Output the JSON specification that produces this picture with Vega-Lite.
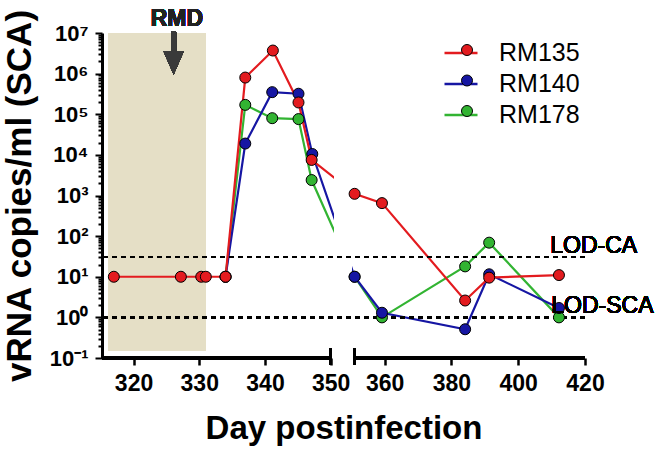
{
  "$schema": "https://vega.github.io/schema/vega-lite/v6.json",
  "width": 483,
  "height": 325,
  "autosize": {"type": "none"},
  "padding": {"left": 102, "top": 33, "right": 81, "bottom": 92},
  "background": "white",
  "config": {
    "view": {"stroke": null},
    "font": "Liberation Sans"
  },
  "data": {
    "values": [
      {"series": "RM178", "day": 334, "vl": 10},
      {"series": "RM178", "day": 337, "vl": 170000},
      {"series": "RM178", "day": 341.1, "vl": 80000},
      {"series": "RM178", "day": 345.1, "vl": 76000},
      {"series": "RM178", "day": 347.1, "vl": 2400},
      {"series": "RM178", "day": 351, "vl": 10},
      {"series": "RM178", "day": 359.2, "vl": 1.0},
      {"series": "RM178", "day": 384.1, "vl": 18},
      {"series": "RM178", "day": 391.3, "vl": 69},
      {"series": "RM178", "day": 412.2, "vl": 1.0},
      {"series": "RM140", "day": 334, "vl": 10},
      {"series": "RM140", "day": 337, "vl": 19000},
      {"series": "RM140", "day": 341.1, "vl": 350000},
      {"series": "RM140", "day": 345.1, "vl": 320000},
      {"series": "RM140", "day": 347.2, "vl": 10500},
      {"series": "RM140", "day": 351, "vl": 10},
      {"series": "RM140", "day": 359.2, "vl": 1.3},
      {"series": "RM140", "day": 384.1, "vl": 0.51},
      {"series": "RM140", "day": 391.3, "vl": 11.5},
      {"series": "RM140", "day": 412.2, "vl": 1.7},
      {"series": "RM135", "day": 317, "vl": 10},
      {"series": "RM135", "day": 327.2, "vl": 10},
      {"series": "RM135", "day": 330.3, "vl": 10},
      {"series": "RM135", "day": 331, "vl": 10},
      {"series": "RM135", "day": 334, "vl": 10},
      {"series": "RM135", "day": 337, "vl": 800000},
      {"series": "RM135", "day": 341.2, "vl": 3700000},
      {"series": "RM135", "day": 345.1, "vl": 195000},
      {"series": "RM135", "day": 347.1, "vl": 7500},
      {"series": "RM135", "day": 351, "vl": 1100},
      {"series": "RM135", "day": 359.2, "vl": 650},
      {"series": "RM135", "day": 384.1, "vl": 2.6},
      {"series": "RM135", "day": 391.3, "vl": 9.5},
      {"series": "RM135", "day": 412.2, "vl": 11}
    ]
  },
  "layer": [
    {
      "mark": {"type": "rect", "color": "#e5dfc6"},
      "encoding": {
        "x": {"datum": 316.2},
        "x2": {"datum": 331.0},
        "y": {"datum": 0.15},
        "y2": {"datum": 10000000}
      }
    },
    {
      "mark": {"type": "rule", "color": "#3a3a3a", "strokeWidth": 5},
      "encoding": {
        "x": {"datum": 326.1},
        "y": {"datum": 10700000},
        "y2": {"datum": 2500000}
      }
    },
    {
      "mark": {"type": "point", "shape": "M-1,-1.15L1,-1.15L0,1.15Z", "size": 400, "filled": true, "color": "#3a3a3a", "opacity": 1},
      "encoding": {
        "x": {"datum": 326.1},
        "y": {"datum": 1820000}
      }
    },
    {
      "mark": {"type": "text", "text": "RMD", "fontSize": 23, "fontWeight": "bold", "color": "#222222", "baseline": "alphabetic", "align": "center", "dy": -7},
      "encoding": {
        "x": {"datum": 326.6},
        "y": {"datum": 10000000}
      }
    },
    {
      "mark": {"type": "line", "strokeWidth": 2.2},
      "encoding": {
        "x": {
          "field": "day",
          "type": "quantitative",
          "scale": {"domain": [315.2, 350, 351, 420], "range": [0, 228.7, 252.6, 483], "nice": false, "zero": false},
          "axis": {
            "title": "Day postinfection",
            "values": [320, 330, 340, 350, 360, 380, 400, 420],
            "domain": false,
            "grid": false,
            "tickSize": 7,
            "tickWidth": 2.5,
            "tickColor": "black",
            "labelFont": "Liberation Sans",
            "labelFontSize": 23,
            "labelFontWeight": "bold",
            "labelColor": "black",
            "labelPadding": 7,
            "labelFlush": false,
            "labelOverlap": false,
            "titleFont": "Liberation Sans",
            "titleFontSize": 33,
            "titleFontWeight": "bold",
            "titleColor": "black",
            "titlePadding": 17
          }
        },
        "y": {
          "field": "vl",
          "type": "quantitative",
          "scale": {"type": "log", "domain": [0.1, 10000000], "nice": false},
          "axis": {
            "title": "vRNA copies/ml (SCA)",
            "values": [0.1, 0.2, 0.3, 0.4, 0.5, 0.6, 0.7, 0.8, 0.9, 1, 2, 3, 4, 5, 6, 7, 8, 9, 10, 20, 30, 40, 50, 60, 70, 80, 90, 100, 200, 300, 400, 500, 600, 700, 800, 900, 1000, 2000, 3000, 4000, 5000, 6000, 7000, 8000, 9000, 10000, 20000, 30000, 40000, 50000, 60000, 70000, 80000, 90000, 100000, 200000, 300000, 400000, 500000, 600000, 700000, 800000, 900000, 1000000, 2000000, 3000000, 4000000, 5000000, 6000000, 7000000, 8000000, 9000000, 10000000],
            "labelExpr": "abs(log(datum.value)/LN10 - round(log(datum.value)/LN10)) < 0.01 ? '10' + ['⁻¹','⁰','¹','²','³','⁴','⁵','⁶','⁷'][round(log(datum.value)/LN10)+1] : ''",
            "grid": false,
            "domain": true,
            "domainColor": "black",
            "domainWidth": 3,
            "tickColor": "black",
            "tickWidth": 2,
            "tickSize": {"condition": {"test": "abs(log(datum.value)/LN10 - round(log(datum.value)/LN10)) < 0.01", "value": 7}, "value": 4},
            "labelOverlap": false,
            "labelBound": false,
            "labelFlush": false,
            "labelFont": "Liberation Sans",
            "labelFontSize": 22,
            "labelFontWeight": "bold",
            "labelColor": "black",
            "labelPadding": 7,
            "titleFont": "Liberation Sans",
            "titleFontSize": 35,
            "titleFontWeight": "bold",
            "titleColor": "black",
            "titleX": -72,
            "titleBaseline": "alphabetic",
            "titleAlign": "center"
          }
        },
        "color": {
          "field": "series",
          "type": "nominal",
          "scale": {"domain": ["RM135", "RM140", "RM178"], "range": ["#e31b1f", "#1616a3", "#32b432"]},
          "legend": {
            "orient": "none",
            "legendX": 341,
            "legendY": 2,
            "title": null,
            "symbolType": "stroke",
            "symbolSize": 1089,
            "symbolStrokeWidth": 2.5,
            "labelFont": "Liberation Sans",
            "labelFontSize": 25,
            "labelColor": "black",
            "labelOffset": 20,
            "rowPadding": 0
          }
        },
        "order": {"field": "day", "type": "quantitative"}
      }
    },
    {
      "mark": {"type": "rect", "color": "white"},
      "encoding": {
        "x": {"datum": 350.14},
        "x2": {"datum": 350.89},
        "y": {"datum": 0.1},
        "y2": {"datum": 10000000}
      }
    },
    {
      "mark": {"type": "rule", "color": "black", "strokeWidth": 1.5, "strokeDash": [5, 4]},
      "encoding": {"y": {"datum": 30}}
    },
    {
      "mark": {"type": "rule", "color": "black", "strokeWidth": 1.5, "strokeDash": [5, 4]},
      "encoding": {"y": {"datum": 1}}
    },
    {
      "mark": {"type": "rule", "color": "black", "strokeWidth": 2.5},
      "encoding": {"x": {"datum": 315.2}, "x2": {"datum": 350}, "y": {"datum": 0.1}}
    },
    {
      "mark": {"type": "rule", "color": "black", "strokeWidth": 2.5},
      "encoding": {"x": {"datum": 351}, "x2": {"datum": 420}, "y": {"datum": 0.1}}
    },
    {
      "mark": {"type": "rule", "color": "black", "strokeWidth": 2.5},
      "encoding": {"x": {"datum": 350}, "y": {"datum": 0.0673}, "y2": {"datum": 0.176}}
    },
    {
      "mark": {"type": "rule", "color": "black", "strokeWidth": 2.5},
      "encoding": {"x": {"datum": 351}, "y": {"datum": 0.0673}, "y2": {"datum": 0.176}}
    },
    {
      "mark": {"type": "point", "shape": "circle", "size": 121, "filled": true, "stroke": "black", "strokeWidth": 1, "opacity": 1},
      "encoding": {
        "x": {"field": "day", "type": "quantitative"},
        "y": {"field": "vl", "type": "quantitative"},
        "fill": {
          "field": "series",
          "type": "nominal",
          "scale": {"range": ["#e31b1f", "#1616a3", "#32b432"]},
          "legend": {
            "orient": "none",
            "legendX": 352.5,
            "legendY": 4.5,
            "title": null,
            "symbolType": "circle",
            "symbolSize": 121,
            "symbolStrokeColor": "black",
            "symbolStrokeWidth": 1,
            "labelFont": "Liberation Sans",
            "labelFontSize": 25,
            "labelOpacity": 0,
            "labelExpr": "''",
            "labelOffset": 20,
            "rowPadding": 4.5
          }
        }
      }
    },
    {
      "mark": {"type": "text", "text": "LOD-CA", "fontSize": 23, "color": "black", "align": "left", "baseline": "alphabetic", "dy": -4},
      "encoding": {"x": {"datum": 409.6}, "y": {"datum": 30}}
    },
    {
      "mark": {"type": "text", "text": "LOD-SCA", "fontSize": 23, "color": "black", "align": "left", "baseline": "alphabetic", "dy": -4},
      "encoding": {"x": {"datum": 409.9}, "y": {"datum": 1}}
    }
  ]
}
